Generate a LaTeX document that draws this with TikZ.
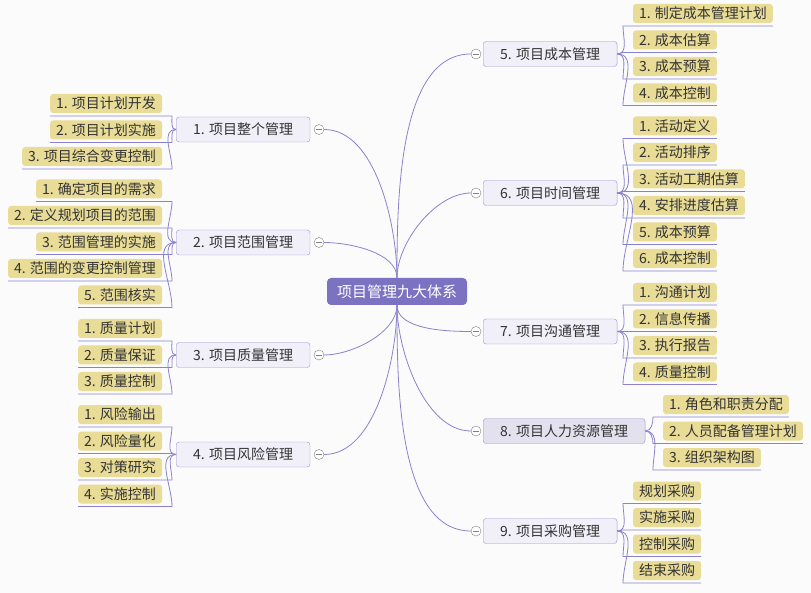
\documentclass[tikz,border=0pt]{standalone}
\usepackage{fontspec}
\newfontfamily\cjk{Noto Sans CJK SC}
\usetikzlibrary{calc}
\definecolor{rootfill}{HTML}{7B73C2}
\definecolor{mgmtfill}{HTML}{F1F0F9}
\definecolor{mgmtsel}{HTML}{E4E1EF}
\definecolor{mgmtline}{HTML}{9C95D4}
\definecolor{itemfill}{HTML}{E8DC96}
\definecolor{linkc}{HTML}{8A83CC}
\definecolor{textc}{HTML}{333333}
\definecolor{paper}{HTML}{FBFBFC}

\begin{document}
\begin{tikzpicture}[x=1pt,y=-1pt]
% Define styles
\tikzstyle{root} = [rounded corners=4pt, fill=rootfill, text=white, font=\cjk\fontsize{15}{16}\selectfont, minimum width=140pt, minimum height=27pt, inner sep=0pt]
\tikzstyle{mgmt} = [rounded corners=3pt, draw=mgmtline, fill=mgmtfill, text=textc, font=\cjk\fontsize{14}{15}\selectfont, inner xsep=17pt, minimum height=25pt, inner ysep=0pt]
\tikzstyle{item} = [rounded corners=3pt, fill=itemfill, text=textc, font=\cjk\fontsize{14}{15}\selectfont, inner xsep=6pt, minimum height=19pt, inner ysep=0pt, outer sep=0pt]
\tikzstyle{fold} = [circle, draw=gray, fill=white, minimum size=10pt, inner sep=0pt, path picture={\draw[gray] ([xshift=-3pt]path picture bounding box.center) -- ([xshift=3pt]path picture bounding box.center);}]
\tikzstyle{link} = [draw=linkc, line width=0.8pt]
\tikzstyle{trunk} = [link, looseness=0.8]
\useasboundingbox[fill=paper] (0,0) rectangle (811,593);

% Define nodes
\node[root] (sys) at (397,291.5) {项目管理九大体系};

\node[mgmt, anchor=west] (mgmt_1) at (176,129.5) {1. 项目整个管理};
\node[mgmt, anchor=west] (mgmt_2) at (176,242.5) {2. 项目范围管理};
\node[mgmt, anchor=west] (mgmt_3) at (176,355) {3. 项目质量管理};
\node[mgmt, anchor=west] (mgmt_4) at (176,454.5) {4. 项目风险管理};
\node[mgmt, anchor=west] (mgmt_5) at (483,54) {5. 项目成本管理};
\node[mgmt, anchor=west] (mgmt_6) at (483,193) {6. 项目时间管理};
\node[mgmt, anchor=west] (mgmt_7) at (483,331.5) {7. 项目沟通管理};
\node[mgmt, anchor=west, fill=mgmtsel] (mgmt_8) at (483,431) {8. 项目人力资源管理};
\node[mgmt, anchor=west] (mgmt_9) at (483,531) {9. 项目采购管理};

\node[fold] (fold_1) at (319,129.5) {};
\node[fold] (fold_2) at (319,242.5) {};
\node[fold] (fold_3) at (319,355) {};
\node[fold] (fold_4) at (319,454.5) {};
\node[fold] (fold_5) at (476,54) {};
\node[fold] (fold_6) at (476,193) {};
\node[fold] (fold_7) at (476,331.5) {};
\node[fold] (fold_8) at (476,431) {};
\node[fold] (fold_9) at (476,531) {};

\node[item, anchor=east] (item_1a) at (162,103.5) {1. 项目计划开发};
\node[item, anchor=east] (item_1b) at (162,130) {2. 项目计划实施};
\node[item, anchor=east] (item_1c) at (162,156.5) {3. 项目综合变更控制};

\node[item, anchor=east] (item_2a) at (162,189) {1. 确定项目的需求};
\node[item, anchor=east] (item_2b) at (162,215.5) {2. 定义规划项目的范围};
\node[item, anchor=east] (item_2c) at (162,242) {3. 范围管理的实施};
\node[item, anchor=east] (item_2d) at (162,268.5) {4. 范围的变更控制管理};
\node[item, anchor=east] (item_2e) at (162,295) {5. 范围核实};

\node[item, anchor=east] (item_3a) at (162,328.5) {1. 质量计划};
\node[item, anchor=east] (item_3b) at (162,355) {2. 质量保证};
\node[item, anchor=east] (item_3c) at (162,381.5) {3. 质量控制};

\node[item, anchor=east] (item_4a) at (162,414.5) {1. 风险输出};
\node[item, anchor=east] (item_4b) at (162,441) {2. 风险量化};
\node[item, anchor=east] (item_4c) at (162,467.5) {3. 对策研究};
\node[item, anchor=east] (item_4d) at (162,494) {4. 实施控制};

\node[item, anchor=west] (item_5a) at (633,13.5) {1. 制定成本管理计划};
\node[item, anchor=west] (item_5b) at (633,40) {2. 成本估算};
\node[item, anchor=west] (item_5c) at (633,66.5) {3. 成本预算};
\node[item, anchor=west] (item_5d) at (633,93) {4. 成本控制};

\node[item, anchor=west] (item_6a) at (633,126) {1. 活动定义};
\node[item, anchor=west] (item_6b) at (633,152.5) {2. 活动排序};
\node[item, anchor=west] (item_6c) at (633,179) {3. 活动工期估算};
\node[item, anchor=west] (item_6d) at (633,205.5) {4. 安排进度估算};
\node[item, anchor=west] (item_6e) at (633,232) {5. 成本预算};
\node[item, anchor=west] (item_6f) at (633,258.5) {6. 成本控制};

\node[item, anchor=west] (item_7a) at (633,292.5) {1. 沟通计划};
\node[item, anchor=west] (item_7b) at (633,319) {2. 信息传播};
\node[item, anchor=west] (item_7c) at (633,345.5) {3. 执行报告};
\node[item, anchor=west] (item_7d) at (633,372) {4. 质量控制};

\node[item, anchor=west] (item_8a) at (663,404.5) {1. 角色和职责分配};
\node[item, anchor=west] (item_8b) at (663,431) {2. 人员配备管理计划};
\node[item, anchor=west] (item_8c) at (663,457.5) {3. 组织架构图};

\node[item, anchor=west] (item_9a) at (633,491) {规划采购};
\node[item, anchor=west] (item_9b) at (633,517.5) {实施采购};
\node[item, anchor=west] (item_9c) at (633,544) {控制采购};
\node[item, anchor=west] (item_9d) at (633,570.5) {结束采购};

% Connect the nodes
\draw[trunk] (sys) to[out=90,in=0] (fold_1);
\draw[trunk] (sys) to[out=90,in=0] (fold_2);
\draw[trunk] (sys) to[out=-90,in=0] (fold_3);
\draw[trunk] (sys) to[out=-90,in=0] (fold_4);
\draw[trunk] (sys) to[out=90,in=180] (fold_5);
\draw[trunk] (sys) to[out=90,in=180] (fold_6);
\draw[trunk] (sys) to[out=-90,in=180] (fold_7);
\draw[trunk] (sys) to[out=-90,in=180] (fold_8);
\draw[trunk] (sys) to[out=-90,in=180] (fold_9);

\draw[link] (mgmt_1.west) to[out=180,in=-90] ($(item_1a.south east)+(10,3)$) -- ([yshift=-3pt]item_1a.south west);
\draw[link] (mgmt_1.west) to[out=180,in=90] ($(item_1b.south east)+(10,3)$) -- ([yshift=-3pt]item_1b.south west);
\draw[link] (mgmt_1.west) to[out=180,in=90] ($(item_1c.south east)+(10,3)$) -- ([yshift=-3pt]item_1c.south west);

\draw[link] (mgmt_2.west) to[out=180,in=-90] ($(item_2a.south east)+(10,3)$) -- ([yshift=-3pt]item_2a.south west);
\draw[link] (mgmt_2.west) to[out=180,in=-90] ($(item_2b.south east)+(10,3)$) -- ([yshift=-3pt]item_2b.south west);
\draw[link] (mgmt_2.west) to[out=180,in=90] ($(item_2c.south east)+(10,3)$) -- ([yshift=-3pt]item_2c.south west);
\draw[link] (mgmt_2.west) to[out=180,in=90] ($(item_2d.south east)+(10,3)$) -- ([yshift=-3pt]item_2d.south west);
\draw[link] (mgmt_2.west) to[out=180,in=90] ($(item_2e.south east)+(10,3)$) -- ([yshift=-3pt]item_2e.south west);

\draw[link] (mgmt_3.west) to[out=180,in=-90] ($(item_3a.south east)+(10,3)$) -- ([yshift=-3pt]item_3a.south west);
\draw[link] (mgmt_3.west) to[out=180,in=90] ($(item_3b.south east)+(10,3)$) -- ([yshift=-3pt]item_3b.south west);
\draw[link] (mgmt_3.west) to[out=180,in=90] ($(item_3c.south east)+(10,3)$) -- ([yshift=-3pt]item_3c.south west);

\draw[link] (mgmt_4.west) to[out=180,in=-90] ($(item_4a.south east)+(10,3)$) -- ([yshift=-3pt]item_4a.south west);
\draw[link] (mgmt_4.west) -- ($(item_4b.south east)+(10,3)$) -- ([yshift=-3pt]item_4b.south west);
\draw[link] (mgmt_4.west) to[out=180,in=90] ($(item_4c.south east)+(10,3)$) -- ([yshift=-3pt]item_4c.south west);
\draw[link] (mgmt_4.west) to[out=180,in=90] ($(item_4d.south east)+(10,3)$) -- ([yshift=-3pt]item_4d.south west);

\draw[link] (mgmt_5.east) to[out=0,in=-90] ($(item_5a.south west)+(-10,3)$) -- ([yshift=-3pt]item_5a.south east);
\draw[link] (mgmt_5.east) -- ($(item_5b.south west)+(-10,3)$) -- ([yshift=-3pt]item_5b.south east);
\draw[link] (mgmt_5.east) to[out=0,in=90] ($(item_5c.south west)+(-10,3)$) -- ([yshift=-3pt]item_5c.south east);
\draw[link] (mgmt_5.east) to[out=0,in=90] ($(item_5d.south west)+(-10,3)$) -- ([yshift=-3pt]item_5d.south east);

\draw[link] (mgmt_6.east) to[out=0,in=-90] ($(item_6a.south west)+(-10,3)$) -- ([yshift=-3pt]item_6a.south east);
\draw[link] (mgmt_6.east) to[out=0,in=-90] ($(item_6b.south west)+(-10,3)$) -- ([yshift=-3pt]item_6b.south east);
\draw[link] (mgmt_6.east) -- ($(item_6c.south west)+(-10,3)$) -- ([yshift=-3pt]item_6c.south east);
\draw[link] (mgmt_6.east) to[out=0,in=90] ($(item_6d.south west)+(-10,3)$) -- ([yshift=-3pt]item_6d.south east);
\draw[link] (mgmt_6.east) to[out=0,in=90] ($(item_6e.south west)+(-10,3)$) -- ([yshift=-3pt]item_6e.south east);
\draw[link] (mgmt_6.east) to[out=0,in=90] ($(item_6f.south west)+(-10,3)$) -- ([yshift=-3pt]item_6f.south east);

\draw[link] (mgmt_7.east) to[out=0,in=-90] ($(item_7a.south west)+(-10,3)$) -- ([yshift=-3pt]item_7a.south east);
\draw[link] (mgmt_7.east) -- ($(item_7b.south west)+(-10,3)$) -- ([yshift=-3pt]item_7b.south east);
\draw[link] (mgmt_7.east) to[out=0,in=90] ($(item_7c.south west)+(-10,3)$) -- ([yshift=-3pt]item_7c.south east);
\draw[link] (mgmt_7.east) to[out=0,in=90] ($(item_7d.south west)+(-10,3)$) -- ([yshift=-3pt]item_7d.south east);

\draw[link] (mgmt_8.east) to[out=0,in=-90] ($(item_8a.south west)+(-10,3)$) -- ([yshift=-3pt]item_8a.south east);
\draw[link] (mgmt_8.east) to[out=0,in=90] ($(item_8b.south west)+(-10,3)$) -- ([yshift=-3pt]item_8b.south east);
\draw[link] (mgmt_8.east) to[out=0,in=90] ($(item_8c.south west)+(-10,3)$) -- ([yshift=-3pt]item_8c.south east);

\draw[link] (mgmt_9.east) to[out=0,in=-90] ($(item_9a.south west)+(-10,3)$) -- ([yshift=-3pt]item_9a.south east);
\draw[link] (mgmt_9.east) -- ($(item_9b.south west)+(-10,3)$) -- ([yshift=-3pt]item_9b.south east);
\draw[link] (mgmt_9.east) to[out=0,in=90] ($(item_9c.south west)+(-10,3)$) -- ([yshift=-3pt]item_9c.south east);
\draw[link] (mgmt_9.east) to[out=0,in=90] ($(item_9d.south west)+(-10,3)$) -- ([yshift=-3pt]item_9d.south east);

\end{tikzpicture}
\end{document}
